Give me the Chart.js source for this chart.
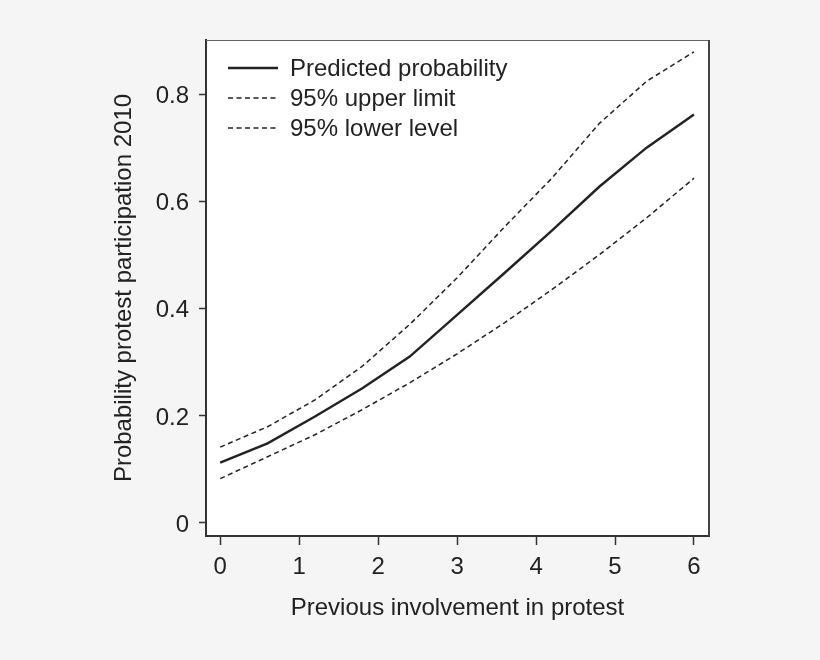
<!DOCTYPE html>
<html>
<head>
<meta charset="utf-8">
<script src="https://cdn.jsdelivr.net/npm/chart.js@4"></script>
<style>
  html, body { margin: 0; padding: 0; background: #f5f5f5; }
  #wrap { width: 820px; height: 660px; }
</style>
</head>
<body>
<div id="wrap"><canvas id="chart" width="820" height="660"></canvas></div>
<script>
// values
const involvement = [0, 0.6, 1.2, 1.8, 2.4, 3.0, 3.6, 4.2, 4.8, 5.4, 6.0];
const predicted = [0.112, 0.148, 0.198, 0.251, 0.310, 0.388, 0.466, 0.545, 0.627, 0.700, 0.762];
const upperLimit = [0.141, 0.179, 0.229, 0.292, 0.370, 0.457, 0.552, 0.643, 0.745, 0.824, 0.879];
const lowerLevel = [0.082, 0.123, 0.164, 0.211, 0.261, 0.315, 0.373, 0.435, 0.500, 0.569, 0.643];
const xTicks = [0, 1, 2, 3, 4, 5, 6];
const yTicks = [0, 0.2, 0.4, 0.6, 0.8];

const FONT = '"Liberation Sans", Arial, Helvetica, sans-serif';
const INK = '#222';
const SIZE = 24;

const toPoints = (ys) => ys.map((y, i) => ({ x: involvement[i], y: y }));

// white plot panel + frame on the top and right sides
const panel = {
  id: 'panel',
  beforeDraw(chart) {
    const { ctx, chartArea: a } = chart;
    ctx.save();
    ctx.fillStyle = '#f5f5f5';
    ctx.fillRect(0, 0, chart.width, chart.height);
    ctx.fillStyle = '#fff';
    ctx.fillRect(a.left, a.top, a.right - a.left, a.bottom - a.top);
    ctx.restore();
  },
  afterDraw(chart) {
    const { ctx, chartArea: a } = chart;
    ctx.save();
    ctx.strokeStyle = '#666';
    ctx.lineWidth = 1;
    ctx.beginPath();
    ctx.moveTo(a.left, a.top + 0.5);
    ctx.lineTo(a.right, a.top + 0.5);
    ctx.stroke();
    ctx.strokeStyle = '#444';
    ctx.lineWidth = 2;
    ctx.beginPath();
    ctx.moveTo(a.right, a.top);
    ctx.lineTo(a.right, a.bottom);
    ctx.stroke();
    ctx.restore();
  }
};

// legend in the upper left of the plot
const insetLegend = {
  id: 'insetLegend',
  afterDraw(chart) {
    const { ctx, chartArea: a } = chart;
    ctx.save();
    ctx.font = SIZE + 'px ' + FONT;
    ctx.textBaseline = 'middle';
    ctx.fillStyle = INK;
    chart.data.datasets.forEach((ds, i) => {
      const y = a.top + 28 + i * 30;
      const x0 = a.left + 22;
      ctx.strokeStyle = ds.borderColor;
      ctx.lineWidth = ds.borderWidth;
      ctx.setLineDash(ds.borderDash || []);
      ctx.beginPath();
      ctx.moveTo(x0, y);
      ctx.lineTo(x0 + 50, y);
      ctx.stroke();
      ctx.setLineDash([]);
      ctx.fillText(ds.label, x0 + 62, y + 1);
    });
    ctx.restore();
  }
};

new Chart(document.getElementById('chart'), {
  type: 'line',
  data: {
    datasets: [
      {
        label: 'Predicted probability',
        data: toPoints(predicted),
        borderColor: INK,
        borderWidth: 2.4,
        pointRadius: 0,
        tension: 0,
      },
      {
        label: '95% upper limit',
        data: toPoints(upperLimit),
        borderColor: INK,
        borderWidth: 1.5,
        borderDash: [5, 3.5],
        pointRadius: 0,
        tension: 0,
      },
      {
        label: '95% lower level',
        data: toPoints(lowerLevel),
        borderColor: INK,
        borderWidth: 1.5,
        borderDash: [5, 3.5],
        pointRadius: 0,
        tension: 0,
      },
    ],
  },
  options: {
    responsive: false,
    animation: false,
    devicePixelRatio: 1,
    layout: { padding: { left: 110, right: 111, top: 40, bottom: 37 } },
    plugins: {
      legend: { display: false },
      tooltip: { enabled: false },
    },
    scales: {
      x: {
        type: 'linear',
        min: -0.18,
        max: 6.19,
        afterBuildTicks: (scale) => { scale.ticks = xTicks.map((v) => ({ value: v })); },
        afterFit: (scale) => { scale.height = 87; },
        border: { display: true, color: '#333', width: 2 },
        grid: { drawOnChartArea: false, drawTicks: true, tickLength: 9, tickColor: '#333', tickWidth: 1.5 },
        ticks: { color: INK, font: { family: FONT, size: SIZE }, padding: 8, maxRotation: 0 },
        title: {
          display: true,
          text: 'Previous involvement in protest',
          color: INK,
          font: { family: FONT, size: SIZE },
          padding: 0,
        },
      },
      y: {
        type: 'linear',
        min: -0.025,
        max: 0.901,
        afterBuildTicks: (scale) => { scale.ticks = yTicks.map((v) => ({ value: v })); },
        afterFit: (scale) => { scale.width = 96; },
        border: { display: true, color: '#333', width: 2 },
        grid: { drawOnChartArea: false, drawTicks: true, tickLength: 7, tickColor: '#333', tickWidth: 1.5 },
        ticks: {
          color: INK,
          font: { family: FONT, size: SIZE },
          padding: 10,
          labelOffset: 2.5,
          callback: (v) => String(v),
        },
        title: {
          display: true,
          text: 'Probability protest participation 2010',
          color: INK,
          font: { family: FONT, size: SIZE },
          padding: 0,
        },
      },
    },
  },
  plugins: [panel, insetLegend],
});
</script>
</body>
</html>
